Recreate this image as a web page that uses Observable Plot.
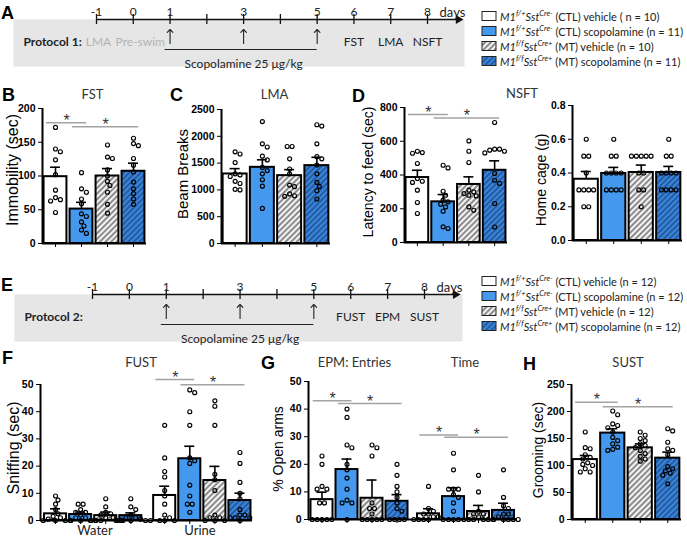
<!DOCTYPE html>
<html><head><meta charset="utf-8">
<script src="https://cdn.jsdelivr.net/npm/d3@7"></script>
<script src="https://cdn.jsdelivr.net/npm/@observablehq/plot@0.6"></script>
<style>
html,body{margin:0;padding:0;background:#fff;}
#fig{position:relative;width:687px;height:538px;overflow:hidden;background:#fff;}
</style></head><body>
<svg width="0" height="0" style="position:absolute">
 <defs>
  <pattern id="hatchGray" patternUnits="userSpaceOnUse" width="4" height="4" patternTransform="rotate(45)">
   <rect width="4" height="4" fill="#f4f4f4"/>
   <line x1="1" y1="0" x2="1" y2="4" stroke="#6a6a6a" stroke-width="1.5"/>
  </pattern>
  <pattern id="hatchBlue" patternUnits="userSpaceOnUse" width="4" height="4" patternTransform="rotate(45)">
   <rect width="4" height="4" fill="#3b86dd"/>
   <line x1="1" y1="0" x2="1" y2="4" stroke="#1d4c8c" stroke-width="1.5"/>
  </pattern>
 </defs>
</svg>
<div id="fig"></div>
<script>
// ---------------- DATA ----------------
const groupNames = ["CTL vehicle", "CTL scopolamine", "MT vehicle", "MT scopolamine"];
const fills = ["white", "#4499ee", "url(#hatchGray)", "url(#hatchBlue)"];

// Protocol timelines
const allDays = [-1, 0, 1, 2, 3, 4, 5, 6, 7, 8];
const labelDays = [-1, 0, 1, 3, 5, 6, 7, 8];
const doseDays = [1, 3, 5];
const events1 = [
  {day: -1, name: "LMA", pre: true},
  {day: 0, name: "Pre-swim", pre: true},
  {day: 6, name: "FST"},
  {day: 7, name: "LMA"},
  {day: 8, name: "NSFT"}
];
const events2 = [
  {day: 6, name: "FUST"},
  {day: 7, name: "EPM"},
  {day: 8, name: "SUST"}
];
const legendA = ["(CTL) vehicle ( n = 10)", "(CTL) scopolamine (n = 11)", "(MT) vehicle (n = 10)", "(MT) scopolamine (n = 11)"];
const legendE = ["(CTL) vehicle (n = 12)", "(CTL) scopolamine (n = 12)", "(MT) vehicle (n = 12)", "(MT) scopolamine (n = 12)"];

// B: FST immobility (sec)
const fstMean = [99, 51, 100, 107];
const fstSem = [14, 10, 11, 12];
const fstPts = [
  [172, 140, 136, 124, 102, 79, 68, 65, 63, 46],
  [105, 81, 76, 66, 59, 44, 40, 32, 26, 20, 15],
  [146, 128, 126, 109, 100, 92, 86, 76, 58, 45],
  [156, 148, 145, 126, 116, 106, 91, 81, 74, 66, 58]
];
const fstSig = [{a: 0, b: 1, y: 179}, {a: 1, b: 3, y: 173}];

// C: LMA beam breaks
const lmaMean = [1297, 1421, 1266, 1453];
const lmaSem = [100, 140, 112, 155];
const lmaPts = [
  [1710, 1670, 1510, 1300, 1280, 1250, 1160, 1120, 1010, 1000],
  [2275, 1860, 1800, 1630, 1560, 1420, 1360, 1300, 1190, 1070, 655],
  [1810, 1810, 1580, 1390, 1300, 1090, 1060, 925, 890, 880],
  [2215, 2190, 1860, 1620, 1580, 1465, 1300, 1140, 1065, 985, 830]
];

// D: NSFT latency to feed (sec)
const nsftMean = [385, 241, 344, 428];
const nsftSem = [43, 43, 45, 56];
const nsftPts = [
  [541, 533, 529, 468, 379, 363, 356, 310, 237, 172],
  [458, 442, 304, 280, 251, 241, 227, 211, 185, 93, 83],
  [602, 541, 474, 310, 300, 290, 280, 276, 211, 191],
  [711, 553, 553, 547, 541, 531, 409, 369, 350, 231, 92]
];
const nsftSig = [{a: 0, b: 1, y: 759}, {a: 1, b: 3, y: 738}];

// D: home cage (g)
const homeMean = [0.363, 0.397, 0.403, 0.403];
const homeSem = [0.046, 0.036, 0.044, 0.036];
const homePts = [
  [0.6, 0.5, 0.5, 0.4, 0.3, 0.3, 0.3, 0.3, 0.2, 0.2],
  [0.6, 0.5, 0.5, 0.4, 0.4, 0.4, 0.4, 0.3, 0.3, 0.3, 0.3],
  [0.5, 0.5, 0.5, 0.5, 0.5, 0.4, 0.4, 0.3, 0.3, 0.2],
  [0.6, 0.5, 0.5, 0.4, 0.4, 0.4, 0.4, 0.3, 0.3, 0.3, 0.3]
];

// F: FUST sniffing (sec)
const fustCategories = ["Water", "Urine"];
const waterMean = [2.45, 2.2, 1.8, 1.8];
const waterSem = [1.85, 0.9, 1.3, 1.0];
const urineMean = [9.2, 22.7, 14.7, 7.35];
const urineSem = [3.4, 4.6, 5.2, 2.7];
const waterPts = [
  [9, 7.5, 6, 4, 2.5, 1.5, 1, 0.5, 0, 0, 0, 0],
  [6, 6, 4, 3, 3, 2, 1, 1, 0, 0, 0, 0],
  [8, 5, 3, 2.5, 2, 1, 1, 0, 0, 0, 0, 0],
  [8, 5, 4, 2, 1, 1, 0.5, 0, 0, 0, 0, 0]
];
const urinePts = [
  [35, 23, 18, 16, 11, 9, 6, 2, 1, 0, 0, 0],
  [48, 47, 40, 35, 23, 22, 21, 13, 9, 6, 6, 3],
  [44, 42, 35, 17, 15, 11, 2, 1, 1, 0, 0, 0],
  [25, 21, 14, 10, 8, 4, 2, 2, 1, 1, 1, 0]
];
const fustSig = [{a: 4, b: 5, y: 51.8}, {a: 5, b: 7, y: 49.9}];

// G: EPM % open arms
const epmCategories = ["Entries", "Time"];
const entriesMean = [7.2, 18.1, 7.7, 6.6];
const entriesSem = [2.7, 3.8, 6.6, 2.4];
const timeMean = [2.05, 8.3, 2.9, 3.3];
const timeSem = [1.85, 3.2, 2.2, 2.6];
const entriesPts = [
  [23, 20, 12, 11, 11, 6, 6, 0, 0, 0, 0, 0],
  [40, 37, 27, 26, 20, 18, 15, 11, 7, 6, 6, 0],
  [27, 26, 23, 6, 4, 4, 2, 0, 0, 0, 0, 0],
  [20, 16, 12, 10, 8, 6, 4, 3, 0, 0, 0, 0]
];
const timePts = [
  [12, 4, 3, 2, 2, 1, 1, 0, 0, 0, 0, 0],
  [24, 18, 11, 11, 11, 9, 8, 6, 3, 0, 0, 0],
  [16, 10, 3, 2, 2, 1, 0, 0, 0, 0, 0, 0],
  [18, 8, 5, 4, 2, 2, 1, 0, 0, 0, 0, 0]
];
const epmSig = [{a: 0, b: 1, y: 43}, {a: 1, b: 3, y: 42}, {a: 4, b: 5, y: 30.6}, {a: 5, b: 7, y: 29.8}];

// H: SUST grooming (sec)
const sustMean = [111, 160, 132.7, 113.6];
const sustSem = [7.5, 8, 7.3, 11.1];
const sustPts = [
  [162, 133, 131, 120, 115, 112, 105, 102, 100, 94, 88, 88],
  [201, 194, 177, 174, 170, 162, 152, 146, 140, 134, 130, 128],
  [162, 156, 150, 146, 140, 137, 133, 128, 122, 117, 112, 108],
  [168, 164, 143, 131, 128, 120, 98, 94, 90, 86, 82, 66]
];
const sustSig = [{a: 0, b: 1, y: 217}, {a: 1, b: 3, y: 209}];

// ---------------- DRAWING ----------------
const fig = document.getElementById("fig");
const ARIAL = "'Liberation Sans', Arial, sans-serif";
const LATO = "Lato, 'Open Sans', sans-serif";

function swarmOffsets(vals, r, vPx) {
  const d = 2 * r + 0.9;
  const idx = vals.map((v, i) => i).sort((a, b) => vals[b] - vals[a]);
  const placed = [];
  const off = new Array(vals.length).fill(0);
  for (const i of idx) {
    const y = vals[i] * vPx;
    for (let k = 0; k < 80; k++) {
      const o = k === 0 ? 0 : (k % 2 ? 1 : -1) * Math.ceil(k / 2) * d / 2;
      if (placed.every(p => (p.o - o) ** 2 + (p.y - y) ** 2 >= d * d * 0.9)) {
        off[i] = o; placed.push({o, y}); break;
      }
    }
  }
  const byVal = d3.group(idx, i => vals[i]);
  for (const [v, ids] of byVal) {
    if (ids.length > 1) {
      const near = vals.some(w => w !== v && Math.abs(w - v) * vPx < d);
      if (!near) { const m = d3.mean(ids, i => off[i]); ids.forEach(i => off[i] -= m); }
    }
  }
  return off;
}

function place(svg, left, top) {
  svg.style.position = "absolute";
  svg.style.left = left + "px";
  svg.style.top = top + "px";
  fig.appendChild(svg);
}

function barPanel(o) {
  const [x0, x1, y0, y1] = o.frame;
  const ml = 40, mr = 8, mt = 30, mb = 10;
  const unit = (x1 - x0) / (o.xDomain[1] - o.xDomain[0]);
  const vPx = (y1 - y0) / (o.yDomain[1] - o.yDomain[0]);
  const r = 2;
  const bars = o.xs.map((x, i) => ({x, mean: o.means[i], sem: o.sems[i], fill: fills[i % 4]}));
  const dots = [];
  o.points.forEach((vals, g) => {
    const off = swarmOffsets(vals, r, vPx);
    vals.forEach((v, j) => dots.push({x: o.xs[g] + off[j] / unit, v}));
  });
  const sigs = (o.sig || []).map(s => ({x1: o.xs[s.a] - 0.35, x2: o.xs[s.b] + 0.2, y: s.y}));
  const cap = 5 / unit;
  const svg = Plot.plot({
    width: x1 - x0 + ml + mr, height: y1 - y0 + mt + mb,
    marginLeft: ml, marginRight: mr, marginTop: mt, marginBottom: mb,
    x: {domain: o.xDomain, ticks: o.xs, tickSize: 4, tickFormat: () => "", label: null},
    y: {domain: o.yDomain, ticks: o.yTicks, tickSize: 4, tickPadding: 3, tickFormat: o.yFormat || d3.format("d"), label: null},
    color: {type: "identity"},
    style: {fontFamily: ARIAL, fontSize: "10.5px", fontWeight: "bold", color: "black", background: "transparent", overflow: "visible"},
    marks: [
      Plot.rect(bars, {x1: d => d.x - 0.44, x2: d => d.x + 0.44, y1: 0, y2: "mean", fill: "fill", stroke: "black", strokeWidth: 2}),
      Plot.dot(dots, {x: "x", y: "v", r, stroke: "black", strokeWidth: 1.15, fill: "none"}),
      Plot.ruleX(bars, {x: "x", y1: "mean", y2: d => d.mean + d.sem, stroke: "black", strokeWidth: 1.6}),
      Plot.ruleY(bars, {y: d => d.mean + d.sem, x1: d => d.x - cap, x2: d => d.x + cap, stroke: "black", strokeWidth: 1.6}),
      Plot.ruleX([o.xDomain[0]], {stroke: "black", strokeWidth: 2}),
      Plot.ruleY([o.yDomain[0]], {stroke: "black", strokeWidth: 2}),
      Plot.ruleY(sigs, {y: "y", x1: "x1", x2: "x2", stroke: "#a3a3a3", strokeWidth: 1.5}),
      Plot.text(sigs, {x: d => (d.x1 + d.x2) / 2, y: "y", text: () => "*", dy: -2, fontSize: 16, fontWeight: "normal", fill: "#333"})
    ]
  });
  place(svg, x0 - ml, y0 - mt);
}

function timeline(o) {
  const unit = (o.x8 - o.xm1) / 9;
  const domain = [-1 - (o.xm1 - o.left) / unit, 8 + (o.right - o.x8) / unit];
  const mt = 19, h = 47;
  const preEvents = o.events.filter(d => d.pre);
  const svg = Plot.plot({
    width: o.right + 6, height: mt + h,
    marginLeft: o.left, marginRight: 6, marginTop: mt, marginBottom: 0,
    x: {domain, axis: null},
    y: {domain: [0, 1], axis: null},
    style: {fontFamily: LATO, fontSize: "12px", color: "#222", background: "transparent", overflow: "visible"},
    marks: [
      Plot.frame({fill: "#e6e6e6", stroke: "none"}),
      Plot.ruleY([1], {x1: allDays[0], x2: allDays[allDays.length - 1] + 0.92, stroke: "#111", strokeWidth: 1.3}),
      Plot.dot([allDays[allDays.length - 1] + 0.84], {x: d => d, y: 1, symbol: "triangle", rotate: 90, r: 3.3, fill: "#111", stroke: "none"}),
      Plot.tickX(allDays, {x: d => d, insetTop: -5, insetBottom: h - 5, stroke: "#111", strokeWidth: 1.3}),
      Plot.text(labelDays, {x: d => d, frameAnchor: "top", dy: -12, text: d => String(d), fill: "#222"}),
      Plot.text(["days"], {x: () => 8, frameAnchor: "top", dx: 25, dy: -12, text: d => d, fontSize: 13, fill: "#222"}),
      Plot.text([o.protocol], {frameAnchor: "top-left", dx: 10, dy: 18, text: d => d, textAnchor: "start", fontWeight: "bold", fill: "#222"}),
      Plot.text(o.events.filter(d => !d.pre), {x: "day", text: "name", frameAnchor: "top", dy: 18, fill: "#222"}),
      Plot.text(preEvents.slice(0, 1), {x: "day", text: "name", frameAnchor: "top", dx: 2, dy: 18, fill: "#b3b3b3"}),
      Plot.text(preEvents.slice(1), {x: "day", text: "name", frameAnchor: "top", dx: 7, dy: 18, fill: "#b3b3b3"}),
      Plot.vector(doseDays, {x: d => d, frameAnchor: "top", dy: 24, anchor: "start", length: 14, rotate: 0, stroke: "#222", strokeWidth: 1.1}),
      Plot.ruleY([1], {x1: () => doseDays[0], x2: () => doseDays[doseDays.length - 1], insetLeft: -5, dy: 30, stroke: "#222", strokeWidth: 1.1}),
      Plot.text(["Scopolamine 25 μg/kg"], {x: () => d3.mean(doseDays), frameAnchor: "top", dy: 40, text: d => d, fill: "#222"})
    ]
  });
  place(svg, 0, o.lineY - mt);
}

// Timelines
timeline({lineY: 19, left: 13, right: 464, xm1: 96, x8: 427, protocol: "Protocol 1:", events: events1});
timeline({lineY: 294, left: 14, right: 462, xm1: 92, x8: 424, protocol: "Protocol 2:", events: events2});

const four = [1, 2, 3, 4];
const gapF = 0.35, gapG = 0.26;
barPanel({frame: [42, 146, 108, 243], xDomain: [0.5, 4.5], yDomain: [0, 200], yTicks: [0, 50, 100, 150, 200], xs: four, means: fstMean, sems: fstSem, points: fstPts, sig: fstSig});
barPanel({frame: [221, 330, 109, 243], xDomain: [0.5, 4.5], yDomain: [0, 2500], yTicks: [0, 500, 1000, 1500, 2000, 2500], xs: four, means: lmaMean, sems: lmaSem, points: lmaPts});
barPanel({frame: [404, 507, 107, 242], xDomain: [0.5, 4.5], yDomain: [0, 800], yTicks: [0, 200, 400, 600, 800], xs: four, means: nsftMean, sems: nsftSem, points: nsftPts, sig: nsftSig});
barPanel({frame: [572, 682, 105, 240], xDomain: [0.5, 4.5], yDomain: [0, 0.8], yTicks: [0, 0.2, 0.4, 0.6, 0.8], yFormat: d3.format(".1f"), xs: four, means: homeMean, sems: homeSem, points: homePts});
barPanel({frame: [40, 252, 384, 520], xDomain: [0.4, 8.85], yDomain: [0, 50], yTicks: [0, 10, 20, 30, 40, 50],
  xs: four.concat(four.map(d => d + 4 + gapF)), means: waterMean.concat(urineMean), sems: waterSem.concat(urineSem), points: waterPts.concat(urinePts), sig: fustSig});
barPanel({frame: [308, 516, 381, 519], xDomain: [0.46, 8.78], yDomain: [0, 50], yTicks: [0, 10, 20, 30, 40, 50],
  xs: four.concat(four.map(d => d + 4 + gapG)), means: entriesMean.concat(timeMean), sems: entriesSem.concat(timeSem), points: entriesPts.concat(timePts), sig: epmSig});
barPanel({frame: [571, 681, 384, 519], xDomain: [0.5, 4.5], yDomain: [0, 250], yTicks: [0, 50, 100, 150, 200, 250], xs: four, means: sustMean, sems: sustSem, points: sustPts, sig: sustSig});

// ---------------- TEXT OVERLAY ----------------
const ov = d3.select(fig).append("svg").attr("width", 687).attr("height", 538)
  .style("position", "absolute").style("left", "0px").style("top", "0px").style("pointer-events", "none");

function txt(x, y, s, {font = LATO, size = 13, weight = "normal", fill = "#333", anchor = "middle", rotate = 0, baseline = "central"} = {}) {
  return ov.append("text").attr("x", x).attr("y", y).attr("text-anchor", anchor)
    .attr("dominant-baseline", baseline)
    .attr("transform", rotate ? `rotate(${rotate},${x},${y})` : null)
    .style("font-family", font).style("font-size", size + "px").style("font-weight", weight).style("fill", fill).text(s);
}

// panel letters
[["A", 1, 19], ["B", 2, 101], ["C", 170, 101], ["D", 352, 102], ["E", 1, 291], ["F", 2, 364], ["G", 261, 369], ["H", 523, 370]]
  .forEach(([s, x, y]) => txt(x, y, s, {font: ARIAL, size: 18, weight: "bold", fill: "#000", anchor: "start", baseline: "alphabetic"}));

// titles
[["FST", 92.5, 94], ["LMA", 274.5, 94], ["NSFT", 522, 93], ["FUST", 141, 361.5], ["EPM: Entries", 354.5, 362], ["Time", 465, 362], ["SUST", 628, 362]]
  .forEach(([s, x, y]) => txt(x, y, s, {size: 13, fill: "#333"}));

// y-axis labels
[["Immobility (sec)", 12, 170, 16], ["Beam Breaks", 182, 174, 15], ["Latency to feed (sec)", 368, 172, 14], ["Home cage (g)", 541, 180, 14],
 ["Sniffing (sec)", 13, 448, 16], ["% Open arms", 278, 449, 14], ["Grooming (sec)", 538, 450, 14]]
  .forEach(([s, x, y, sz]) => txt(x, y, s, {font: ARIAL, size: sz, fill: "#000", rotate: -90}));

// FUST group labels
fustCategories.forEach((s, i) => txt([95, 200][i], 530, s, {size: 13, fill: "#222"}));

// legends
function legend(rows, ys) {
  rows.forEach((label, i) => {
    const y = ys[i];
    ov.append("rect").attr("x", 482).attr("y", y - 4.5).attr("width", 14).attr("height", 9)
      .attr("fill", fills[i]).attr("stroke", "#222").attr("stroke-width", 1);
    const t = ov.append("text").attr("x", 500).attr("y", y).attr("dominant-baseline", "central")
      .style("font-family", LATO).style("font-size", "11px").style("fill", "#222");
    const mt = i >= 2;
    t.append("tspan").style("font-style", "italic").text("M1");
    t.append("tspan").style("font-style", "italic").style("font-size", "7.5px").attr("dy", -3.5).text(mt ? "f/f" : "f/+");
    t.append("tspan").style("font-style", "italic").attr("dy", 3.5).text("Sst");
    t.append("tspan").style("font-style", "italic").style("font-size", "7.5px").attr("dy", -3.5).text(mt ? "Cre+" : "Cre-");
    t.append("tspan").attr("dy", 3.5).text(" " + label);
  });
}
legend(legendA, [16, 31, 46, 61]);
legend(legendE, [281, 296, 311, 326]);
</script>
</body></html>
